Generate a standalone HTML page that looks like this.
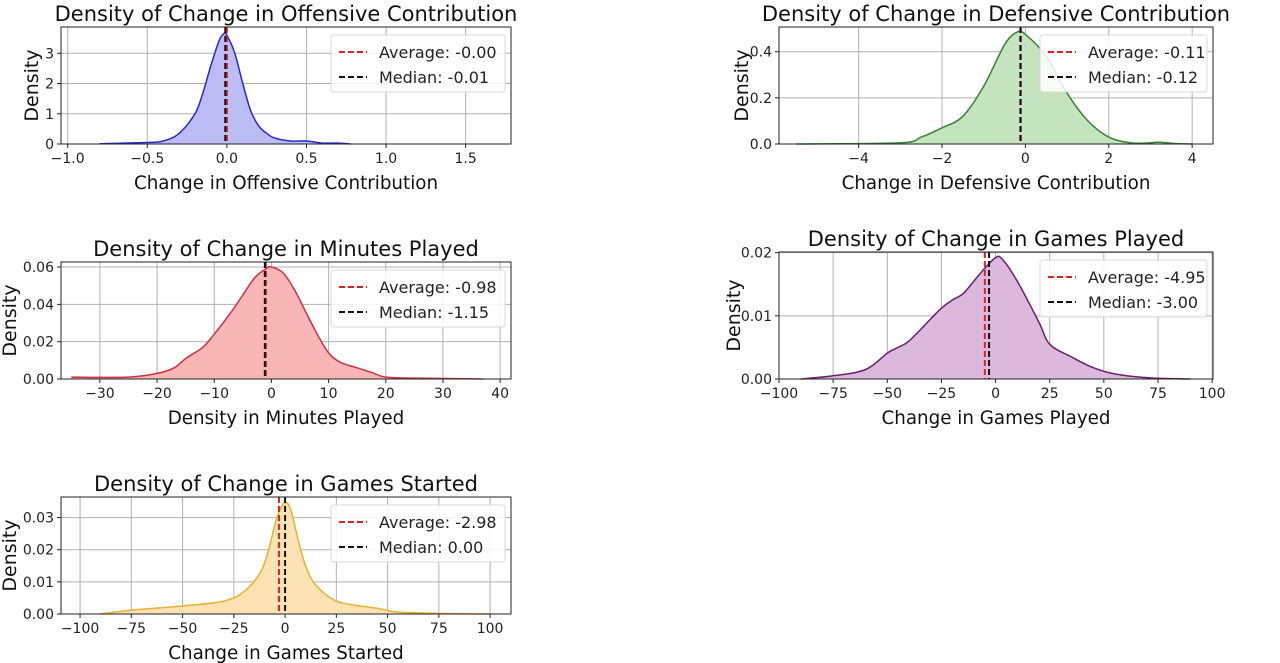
<!DOCTYPE html>
<html><head><meta charset="utf-8">
<style>
body{margin:0;background:#fff;}
svg{display:block;font-family:"DejaVu Sans","Liberation Sans",sans-serif;}
</style></head>
<body>
<svg id="fig" width="1280" height="663" viewBox="0 0 1280 663"></svg>
<script>
// ---- data ----
const offX = [-0.8,-0.5,-0.4,-0.3,-0.2,-0.15,-0.1,-0.05,-0.02,0,0.05,0.1,0.15,0.2,0.25,0.3,0.4,0.5,0.6,0.7,0.78];
const offY = [0.01,0.05,0.1,0.35,1.0,1.7,2.6,3.4,3.65,3.6,3.0,2.0,1.1,0.6,0.35,0.2,0.1,0.1,0.03,0.03,0];
const defX = [-5.5,-3,-2.5,-2,-1.5,-1,-0.5,-0.2,0,0.5,1,1.5,2,2.5,3,3.2,3.6,4];
const defY = [0,0.005,0.03,0.07,0.12,0.25,0.43,0.485,0.475,0.38,0.22,0.1,0.03,0.005,0.005,0.008,0.002,0];
const minX = [-35,-25,-20,-17,-15,-12,-10,-7,-5,-3,-1,0,2,4,6,8,10,12,15,18,20,25,37];
const minY = [0.001,0.001,0.003,0.006,0.011,0.017,0.024,0.036,0.045,0.054,0.059,0.06,0.057,0.048,0.036,0.024,0.014,0.009,0.006,0.003,0.001,0.0005,0];
const gpX = [-90,-75,-60,-50,-45,-40,-30,-25,-20,-15,-10,-5,0,3,10,20,25,35,45,55,70,90];
const gpY = [0,0.0005,0.0015,0.0041,0.005,0.006,0.0095,0.0112,0.0125,0.0135,0.0155,0.0175,0.0192,0.019,0.0155,0.009,0.0055,0.0035,0.0018,0.0008,0.0002,0];
const gsX = [-90,-75,-50,-30,-20,-12,-8,-4,0,3,6,10,15,25,40,45,55,75,100];
const gsY = [0,0.0012,0.0025,0.004,0.007,0.013,0.02,0.03,0.0347,0.032,0.024,0.015,0.009,0.004,0.0022,0.0018,0.0006,0.0002,0];
const offStats = [-0.00,-0.01];
const defStats = [-0.11,-0.12];
const minStats = [-0.98,-1.15];
const gpStats = [-4.95,-3.00];
const gsStats = [-2.98,0.00];
const offXTicks = [-1.0,-0.5,0.0,0.5,1.0,1.5];
const offYTicks = [0,1,2,3];
const defXTicks = [-4,-2,0,2,4];
const defYTicks = [0.0,0.2,0.4];
const minXTicks = [-30,-20,-10,0,10,20,30,40];
const minYTicks = [0.00,0.02,0.04,0.06];
const gpXTicks = [-100,-75,-50,-25,0,25,50,75,100];
const gpYTicks = [0.00,0.01,0.02];
const gsXTicks = [-100,-75,-50,-25,0,25,50,75,100];
const gsYTicks = [0.00,0.01,0.02,0.03];

const NS="http://www.w3.org/2000/svg";
const svg=document.getElementById('fig');
function mk(tag,attrs,parent,text){const e=document.createElementNS(NS,tag);for(const k in attrs)e.setAttribute(k,attrs[k]);if(text!==undefined)e.textContent=text;(parent||svg).appendChild(e);return e;}

function smooth(p){
  let d='M'+p[0][0].toFixed(1)+','+p[0][1].toFixed(1);
  for(let i=0;i<p.length-1;i++){
    const p0=p[Math.max(i-1,0)],p1=p[i],p2=p[i+1],p3=p[Math.min(i+2,p.length-1)];
    const c1x=p1[0]+(p2[0]-p0[0])/6,c1y=p1[1]+(p2[1]-p0[1])/6;
    const c2x=p2[0]-(p3[0]-p1[0])/6,c2y=p2[1]-(p3[1]-p1[1])/6;
    d+=' C'+c1x.toFixed(1)+','+c1y.toFixed(1)+' '+c2x.toFixed(1)+','+c2y.toFixed(1)+' '+p2[0].toFixed(1)+','+p2[1].toFixed(1);
  }
  return d;
}

function panel(o){
  const g=mk('g',{});
  
  
  const sx=v=>o.L+(v-o.x0)/(o.x1-o.x0)*(o.R-o.L);
  const sy=v=>o.B-(v-o.y0)/(o.y1-o.y0)*(o.B-o.T);
  o.xt.forEach(t=>{const x=sx(t);
    const l=mk('line',{x1:x,x2:x,y1:o.T,y2:o.B,stroke:'#b0b0b0','stroke-width':1},g);
    
    
    mk('line',{x1:x,x2:x,y1:o.B,y2:o.B+4,stroke:'#222','stroke-width':1},g);
    const tx=mk('text',{x:x,y:o.B+19,'font-size':14,'text-anchor':'middle',fill:'#222'},g,(t<0?'\u2212':'')+Math.abs(t).toFixed(o.xd));
    
    
  });
  o.yt.forEach(t=>{const y=sy(t);
    const l=mk('line',{x1:o.L,x2:o.R,y1:y,y2:y,stroke:'#b0b0b0','stroke-width':1},g);
    
    
    mk('line',{x1:o.L-4,x2:o.L,y1:y,y2:y,stroke:'#222','stroke-width':1},g);
    const tx=mk('text',{x:o.L-7,y:y+5,'font-size':14,'text-anchor':'end',fill:'#222'},g,t.toFixed(o.yd));
    
    
  });
  const pts=o.xs.map((x,i)=>[sx(x),sy(o.ys[i])]);
  const curve=smooth(pts);
  const area=mk('path',{d:curve+' L'+sx(o.xs[o.xs.length-1])+','+sy(0)+' L'+sx(o.xs[0])+','+sy(0)+'Z',fill:o.fill,stroke:'none'},g);
  
  
  const line=mk('path',{d:curve,fill:'none',stroke:o.line,'stroke-width':1.5},g);
  
  
  const a=mk('line',{x1:sx(o.st[0]),x2:sx(o.st[0]),y1:o.T,y2:o.B,stroke:'#e02020','stroke-width':2,'stroke-dasharray':'6,3'},g);
  
  
  const m=mk('line',{x1:sx(o.st[1]),x2:sx(o.st[1]),y1:o.T,y2:o.B,stroke:'#111','stroke-width':2,'stroke-dasharray':'6,3'},g);
  
  
  mk('rect',{x:o.L,y:o.T,width:o.R-o.L,height:o.B-o.T,fill:'none',stroke:'#222','stroke-width':1},g);
  const lg=mk('g',{},g);
  
  
  const lx=o.lx, ly=o.T+8;
  mk('rect',{x:lx,y:ly,width:o.R-6-lx,height:57,rx:3,fill:'rgba(255,255,255,0.85)',stroke:'#d8d8d8'},lg);
  [['#e02020','Average: '+o.lab[0]],['#111','Median: '+o.lab[1]]].forEach((e,i)=>{
    const yy=ly+17+i*25;
    mk('line',{x1:lx+8,x2:lx+36,y1:yy,y2:yy,stroke:e[0],'stroke-width':2,'stroke-dasharray':'6,3'},lg);
    const t=mk('text',{x:lx+48,y:yy+6,'font-size':16,fill:'#222'},lg,e[1]);
    
    
  });
  const cx=(o.L+o.R)/2;
  const tt=mk('text',{x:cx,y:o.T-6,'font-size':21,'text-anchor':'middle',fill:'#111'},g,o.title);
  
  
  const xl=mk('text',{x:cx,y:o.B+45,'font-size':18.3,'text-anchor':'middle',fill:'#111'},g,o.xlab);
  
  
  const yc=(o.T+o.B)/2;
  const yl=mk('text',{x:o.ylx,y:yc,'font-size':19,'text-anchor':'middle',fill:'#111',transform:'rotate(-90 '+o.ylx+' '+yc+')'},g,'Density');
  
  
}

panel({name:'offensive-panel',L:61,R:511,T:27,B:144,x0:-1.042,x1:1.785,y0:0,y1:3.87,xt:offXTicks,yt:offYTicks,xd:1,yd:0,xs:offX,ys:offY,st:offStats,lab:['-0.00','-0.01'],fill:'#bcbcf6',line:'#2a2ac8',lx:331,title:'Density of Change in Offensive Contribution',xlab:'Change in Offensive Contribution',ylx:38});
panel({name:'defensive-panel',L:779,R:1213,T:27,B:144,x0:-5.91,x1:4.5,y0:0,y1:0.507,xt:defXTicks,yt:defYTicks,xd:0,yd:1,xs:defX,ys:defY,st:defStats,lab:['-0.11','-0.12'],fill:'#c4e3bf',line:'#3a803a',lx:1040,title:'Density of Change in Defensive Contribution',xlab:'Change in Defensive Contribution',ylx:748});
panel({name:'minutes-panel',L:61,R:511,T:262,B:379,x0:-36.8,x1:41.9,y0:0,y1:0.0627,xt:minXTicks,yt:minYTicks,xd:0,yd:2,xs:minX,ys:minY,st:minStats,lab:['-0.98','-1.15'],fill:'#f8b6b6',line:'#d03040',lx:331,title:'Density of Change in Minutes Played',xlab:'Density in Minutes Played',ylx:16});
panel({name:'games-played-panel',L:779,R:1213,T:252,B:379,x0:-100,x1:100.4,y0:0,y1:0.0201,xt:gpXTicks,yt:gpYTicks,xd:0,yd:2,xs:gpX,ys:gpY,st:gpStats,lab:['-4.95','-3.00'],fill:'#dcb9dc',line:'#6a1f6a',lx:1040,title:'Density of Change in Games Played',xlab:'Change in Games Played',ylx:740});
panel({name:'games-started-panel',L:61,R:511,T:497,B:614,x0:-109.3,x1:110.2,y0:0,y1:0.0364,xt:gsXTicks,yt:gsYTicks,xd:0,yd:2,xs:gsX,ys:gsY,st:gsStats,lab:['-2.98','0.00'],fill:'#fde2b4',line:'#e8b030',lx:331,title:'Density of Change in Games Started',xlab:'Change in Games Started',ylx:16});
</script>
</body></html>
